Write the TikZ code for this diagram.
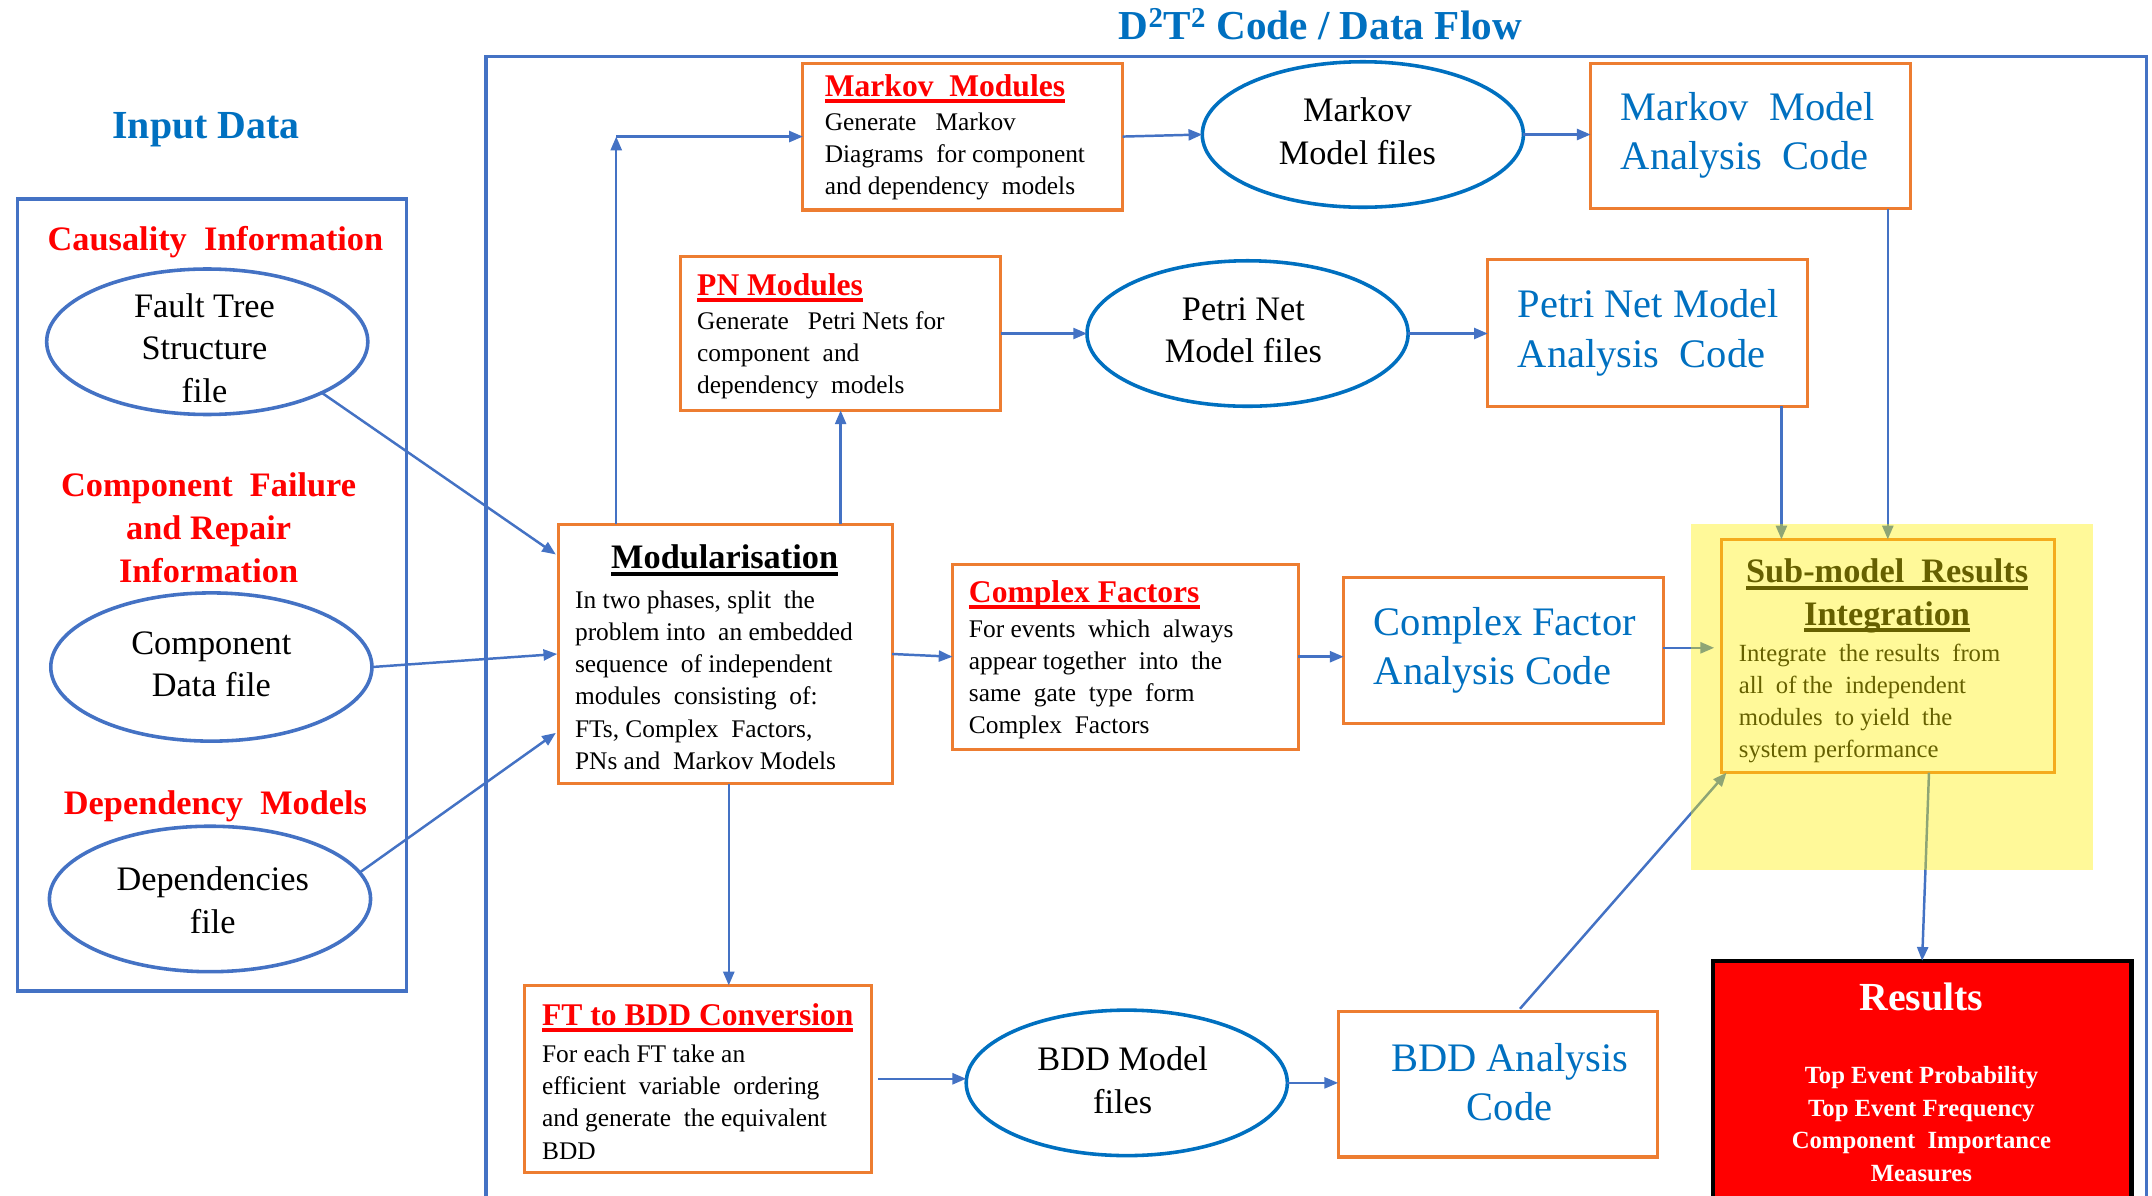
\documentclass[tikz,border=0pt]{standalone}
\usepackage{fontspec}
\setmainfont{Liberation Serif}
\usetikzlibrary{arrows.meta,shapes.geometric,calc}
\definecolor{frblue}{HTML}{4472C4}
\definecolor{tblue}{HTML}{0070C0}
\definecolor{oran}{HTML}{ED7D31}
\newcommand{\myul}[1]{\setbox0=\hbox{#1}\rlap{\rule[-0.21em]{\wd0}{0.12em}}\box0}
\begin{document}
\begin{tikzpicture}[x=1pt,y=-1pt,
  every node/.style={inner sep=0pt,outer sep=0pt},
  obox/.style={draw=oran,line width=2.2pt,fill=white,rectangle},
  iell/.style={draw=frblue,line width=2.6pt,ellipse},
  mell/.style={draw=tblue,line width=2.6pt,ellipse},
  arr/.style={draw=frblue,line width=1.8pt,-{Triangle[length=10pt,width=8pt]}},
  dn/.style={yshift=-2.5pt},
  redtitle/.style={dn,text=red,font=\fontsize{23}{27}\selectfont\bfseries,anchor=west},
  body/.style={dn,font=\fontsize{18.5}{23.5}\selectfont,align=left,anchor=west},
  elltext/.style={font=\fontsize{25}{31}\selectfont,align=center},
  codetext/.style={dn,text=tblue,font=\fontsize{29.5}{36}\selectfont,align=left,anchor=west},
  hdr/.style={text=red,font=\fontsize{25}{31.5}\selectfont\bfseries,align=center}]
\useasboundingbox[fill=white] (0,0) rectangle (1568,871);

% frames
\draw[frblue,line width=2.4pt] (354,885) -- (354,41) -- (1564,41) -- (1564,885);
\node[draw=frblue,line width=2.4pt,minimum width=283,minimum height=577] (inbox) at (154.5,433.5) {};

% titles
\node[text=tblue,font=\fontsize{30}{34}\selectfont\bfseries] (title) at (962,17.5) {D\textsuperscript{2}T\textsuperscript{2} Code / Data Flow};
\node[dn,text=tblue,font=\fontsize{29}{34}\selectfont\bfseries] (indata) at (150,92) {Input Data};

% input side
\node[hdr,dn] (hcaus) at (157,174) {Causality\ \ Information};
\node[iell,minimum width=234,minimum height=106] (ft) at (151,249) {};
\node[elltext] (ftT) at (149,253.5) {Fault Tree\\Structure\\file};
\node[hdr] (hcomp) at (152,384.5) {Component\ \ Failure\\and Repair\\Information};
\node[iell,minimum width=234,minimum height=108] (cd) at (154,486) {};
\node[elltext] (cdT) at (154,484) {Component\\Data file};
\node[hdr,dn] (hdep) at (157,585) {Dependency\ \ Models};
\node[iell,minimum width=234,minimum height=106] (dep) at (153,655) {};
\node[elltext] (depT) at (155,656) {Dependencies\\file};

% process boxes
\node[obox,minimum width=243,minimum height=189] (mod) at (528.5,476.5) {};
\node[dn,font=\fontsize{25}{30}\selectfont\bfseries] (modT) at (528,406) {\myul{Modularisation}};
\node[body] (modB) at (419,493) {In two phases, split\ \ the\\problem into\ \ an embedded\\sequence\ \ of independent\\modules\ \ consisting\ \ of:\\FTs, Complex\ \ Factors,\\PNs and\ \ Markov Models};

\node[obox,minimum width=233,minimum height=107] (mmod) at (701.5,99.5) {};
\node[redtitle] (mmodT) at (601,62) {\myul{Markov\ \ Modules}};
\node[body] (mmodB) at (601,111.5) {Generate\ \ \ Markov\\Diagrams\ \ for component\\and dependency\ \ models};

\node[obox,minimum width=233,minimum height=112] (pnm) at (612.5,243) {};
\node[redtitle] (pnmT) at (508,207) {\myul{PN Modules}};
\node[body] (pnmB) at (508,256.5) {Generate\ \ \ Petri Nets for\\component\ \ and\\dependency\ \ models};

\node[obox,minimum width=252,minimum height=135] (cf) at (820,478.5) {};
\node[redtitle] (cfT) at (706,431) {\myul{Complex Factors}};
\node[body] (cfB) at (706,492.5) {For events\ \ which\ \ always\\appear together\ \ into\ \ the\\same\ \ gate\ \ type\ \ form\\Complex\ \ Factors};

\node[obox,minimum width=253,minimum height=136] (ftb) at (508.5,786) {};
\node[redtitle] (ftbT) at (395,739) {\myul{FT to BDD Conversion}};
\node[body] (ftbB) at (395,800.5) {For each FT take an\\efficient\ \ variable\ \ ordering\\and generate\ \ the equivalent\\BDD};

% model file ellipses
\node[mell,minimum width=234,minimum height=106] (mmf) at (993,98) {};
\node[elltext] (mmfT) at (989,95.5) {Markov\\Model files};
\node[mell,minimum width=234,minimum height=106] (pnf) at (909,243) {};
\node[elltext] (pnfT) at (906,240.5) {Petri Net\\Model files};
\node[mell,minimum width=234,minimum height=106] (bddf) at (821,789) {};
\node[elltext] (bddfT) at (818,787) {BDD Model\\files};

% analysis code boxes
\node[obox,minimum width=233,minimum height=106] (mac) at (1275.5,99) {};
\node[codetext] (macT) at (1181,96) {Markov\ \ Model\\Analysis\ \ Code};
\node[obox,minimum width=233,minimum height=107] (pnac) at (1200.5,242.5) {};
\node[codetext] (pnacT) at (1106,240) {Petri Net Model\\Analysis\ \ Code};
\node[obox,minimum width=233,minimum height=106] (cfac) at (1095.5,474) {};
\node[codetext] (cfacT) at (1001,471.5) {Complex Factor\\Analysis Code};
\node[obox,minimum width=233,minimum height=106] (bddac) at (1091.5,790) {};
\node[codetext,yshift=2.5pt,anchor=center,align=center] (bddacT) at (1100,788.5) {BDD Analysis\\Code};

% integration box
\node[obox,minimum width=243,minimum height=170] (int) at (1375.5,478) {};
\node[dn,font=\fontsize{25}{31}\selectfont\bfseries,align=center] (intT) at (1375,431.5) {\myul{Sub-model\ \ Results}\\\myul{Integration}};
\node[body,font=\fontsize{18}{23.3}\selectfont] (intB) at (1267,510) {Integrate\ \ the results\ \ from\\all\ \ of the\ \ independent\\modules\ \ to yield\ \ the\\system performance};

% arrows
\draw[arr] (ft.-24) -- ($(mod.north west)+(-2,22)$);
\draw[arr] (cd.east) -- ($(mod.west)+(-1,0)$);
\draw[arr] (dep.10) -- ($(mod.south west)+(-2,-37)$);
\coordinate (m4) at ($(mod.north west)+(42,0)$);
\coordinate (k4) at (m4 |- mmod.west);
\draw[arr] (m4) -- (k4);
\draw[arr] (k4) -- (mmod.west);
\draw[arr] (mod.north -| pnm.south) -- (pnm.south);
\draw[arr] (mod.east) -- (cf.west);
\coordinate (m7) at ($(mod.south)+(2.5,0)$);
\draw[arr] (m7) -- (m7 |- ftb.north);
\draw[arr] (mmod.east) -- (mmf.west);
\draw[arr] (mmf.east) -- (mmf.east -| mac.west);
\draw[arr] (pnm.east) -- (pnf.west);
\draw[arr] (pnf.east) -- (pnf.east -| pnac.west);
\draw[arr] (cf.east) -- (cf.east -| cfac.west);
\draw[arr,shorten >=5pt] ($(cfac.east)+(0,-2)$) -- ($(int.west)+(0,-6)$);
\draw[arr] (int.north |- mac.south) -- (int.north);
\coordinate (p15) at ($(pnac.south east)+(-19,0)$);
\draw[arr] (p15) -- (p15 |- int.north);
\draw[arr] ($(bddac.north)+(16,-2)$) -- ($(int.south west)+(4,0)$);
\draw[arr] ($(ftb.east)+(5,0)$) -- (ftb.east -| bddf.west);
\draw[arr] (bddf.east) -- (bddf.east -| bddac.west);

% results box
\node[draw=black,fill=red,line width=3pt,minimum width=305,minimum height=180] (res) at (1400.5,790) {};
\draw[arr] ($(int.south)+(30,0)$) -- (res.north);
\node[text=white,font=\fontsize{29}{34}\selectfont\bfseries] (resT) at (1400,726.5) {Results};
\node[text=white,font=\fontsize{18}{24}\selectfont\bfseries,align=center] (resB) at (1400,819) {Top Event Probability\\Top Event Frequency\\Component\ \ Importance\\Measures};

% translucent yellow highlight
\fill[yellow,fill opacity=0.4] (1232,382) rectangle (1525,634);
\end{tikzpicture}
\end{document}
